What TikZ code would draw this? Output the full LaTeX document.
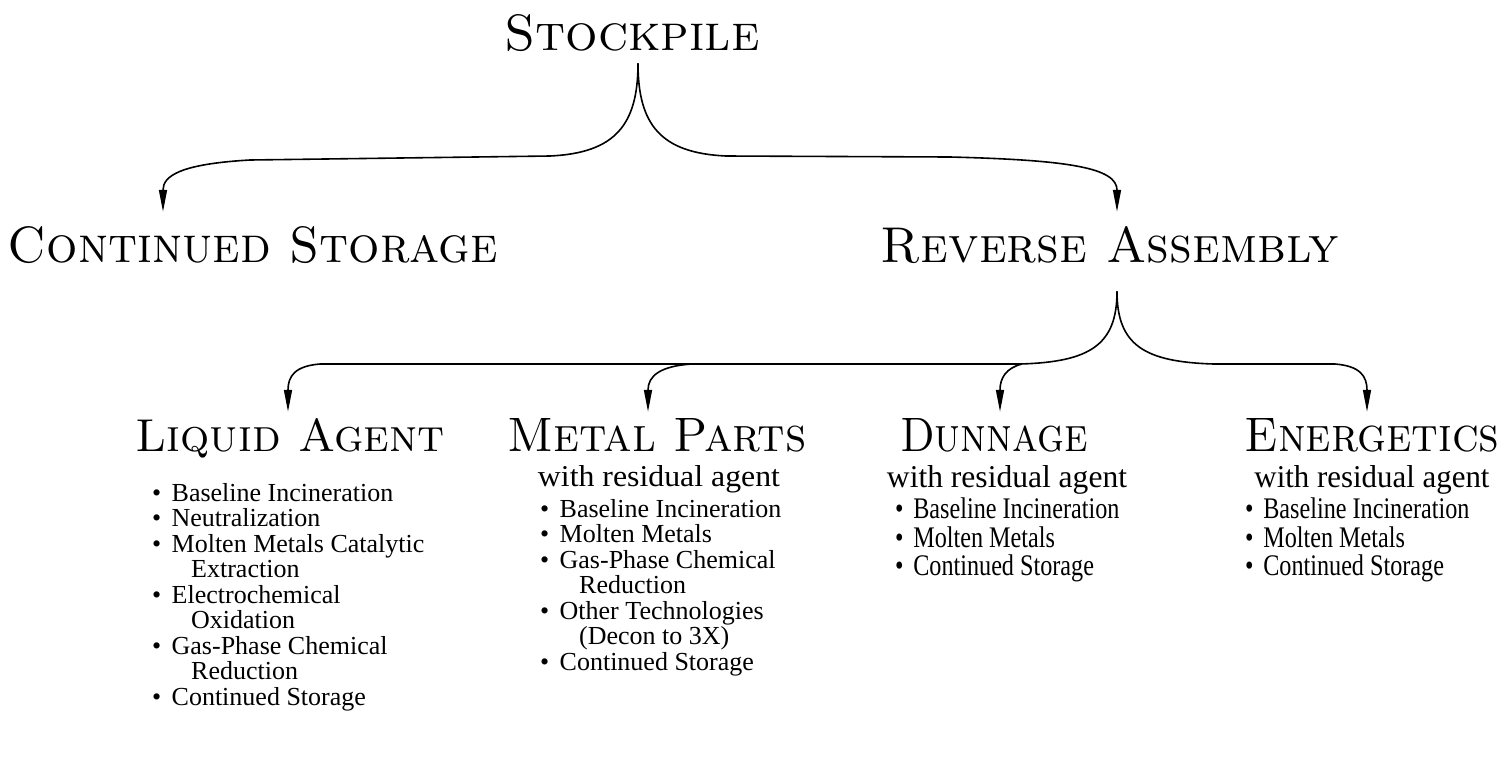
\documentclass[tikz,border=0pt]{standalone}
\usepackage{fontspec}
\usetikzlibrary{arrows.meta}
\newfontfamily\bodyfont{Liberation Serif}
\tikzset{
  head/.style={inner sep=0pt, anchor=base},
  sub/.style={inner sep=0pt, anchor=base, font=\bodyfont},
  list/.style={inner sep=0pt, anchor=north west, align=left, font=\bodyfont\fontsize{26}{25.5}\selectfont},
  conn/.style={line width=1.6pt},
  arr/.style={conn, -{Triangle[length=22pt,width=8pt]}},
}
\newcommand{\hd}[3]{\resizebox{#1pt}{#2pt}{\textsc{#3}}}
\newcommand{\li}[1]{\makebox[0.75em][l]{\textbullet}#1}
\newcommand{\cl}[1]{\hspace*{1.5em}#1}
\begin{document}
\begin{tikzpicture}[x=1pt,y=-1pt]
\useasboundingbox (0,0) rectangle (1505,769);
% headings
\node[head] (stock) at (632,50) {\hd{255}{36}{Stockpile}};
\node[head] (cont) at (253,262) {\hd{490}{36}{Continued Storage}};
\node[head] (rev) at (1110,262) {\hd{458}{36}{Reverse Assembly}};
\node[head] (liq) at (290,451) {\hd{309}{33}{Liquid Agent}};
\node[head] (metal) at (657,451) {\hd{299}{33}{Metal Parts}};
\node[head] (dun) at (994,451) {\hd{188}{33}{Dunnage}};
\node[head] (ener) at (1372,451) {\hd{255}{33}{Energetics}};
% sub headings
\node[sub] (msub) at (659,486) {\resizebox{242pt}{21pt}{with residual agent}};
\node[sub] (dsub) at (1007,487) {\resizebox{240pt}{22pt}{with residual agent}};
\node[sub] (esub) at (1372,487) {\resizebox{235pt}{22pt}{with residual agent}};
% lists
\node[list] (llist) at (152,483) {\li{Baseline Incineration}\\ \li{Neutralization}\\ \li{Molten Metals Catalytic}\\ \cl{Extraction}\\ \li{Electrochemical}\\ \cl{Oxidation}\\ \li{Gas-Phase Chemical}\\ \cl{Reduction}\\ \li{Continued Storage}};
\node[list] (mlist) at (540,499) {\li{Baseline Incineration}\\ \li{Molten Metals}\\ \li{Gas-Phase Chemical}\\ \cl{Reduction}\\ \li{Other Technologies}\\ \cl{(Decon to 3X)}\\ \li{Continued Storage}};
\node[list, font=\bodyfont\fontsize{26}{21.4}\selectfont] (dlist) at (895,498) {\scalebox{0.93}[1.15]{\begin{tabular}{@{}l@{}}\li{Baseline Incineration}\\ \li{Molten Metals}\\ \li{Continued Storage}\end{tabular}}};
\node[list, font=\bodyfont\fontsize{26}{21.4}\selectfont] (elist) at (1245,498) {\scalebox{0.93}[1.15]{\begin{tabular}{@{}l@{}}\li{Baseline Incineration}\\ \li{Molten Metals}\\ \li{Continued Storage}\end{tabular}}};
% arrow x positions
\coordinate (xcs) at (163,0);
\coordinate (xra) at (1117,0);
\coordinate (xla) at (288,0);
\coordinate (xmp) at (648,0);
\coordinate (xdu) at (1000,0);
\coordinate (xen) at (1367,0);
\coordinate (bmp) at (692,364);
\coordinate (bdu) at (1022,364);
% stockpile connectors
\draw[arr, shorten >=14pt] (stock.south) ++(6,12) .. controls (638,125) and (615,153) .. (550,156) -- (250,160) .. controls (180,164) and (163,176) .. (cont.north -| xcs);
\draw[arr, shorten >=14pt] (stock.south) ++(6,12) .. controls (638,125) and (661,153) .. (726,156) -- (950,157) .. controls (1070,160) and (1117,168) .. (rev.north -| xra);
% reverse assembly connectors
\draw[arr, shorten >=6pt] (rev.south) ++(7,28) .. controls (1117,345) and (1090,362) .. (1020,364) -- (320,364) .. controls (295,366) and (288,376) .. (liq.north -| xla);
\draw[arr, shorten >=6pt] (rev.south) ++(7,28) .. controls (1117,345) and (1144,362) .. (1214,364) -- (1335,364) .. controls (1360,366) and (1367,376) .. (ener.north -| xen);
\draw[arr, shorten >=6pt] (bmp) .. controls (660,366) and (648,376) .. (metal.north -| xmp);
\draw[arr, shorten >=6pt] (bdu) .. controls (1006,368) and (1000,378) .. (dun.north -| xdu);
\end{tikzpicture}
\end{document}
